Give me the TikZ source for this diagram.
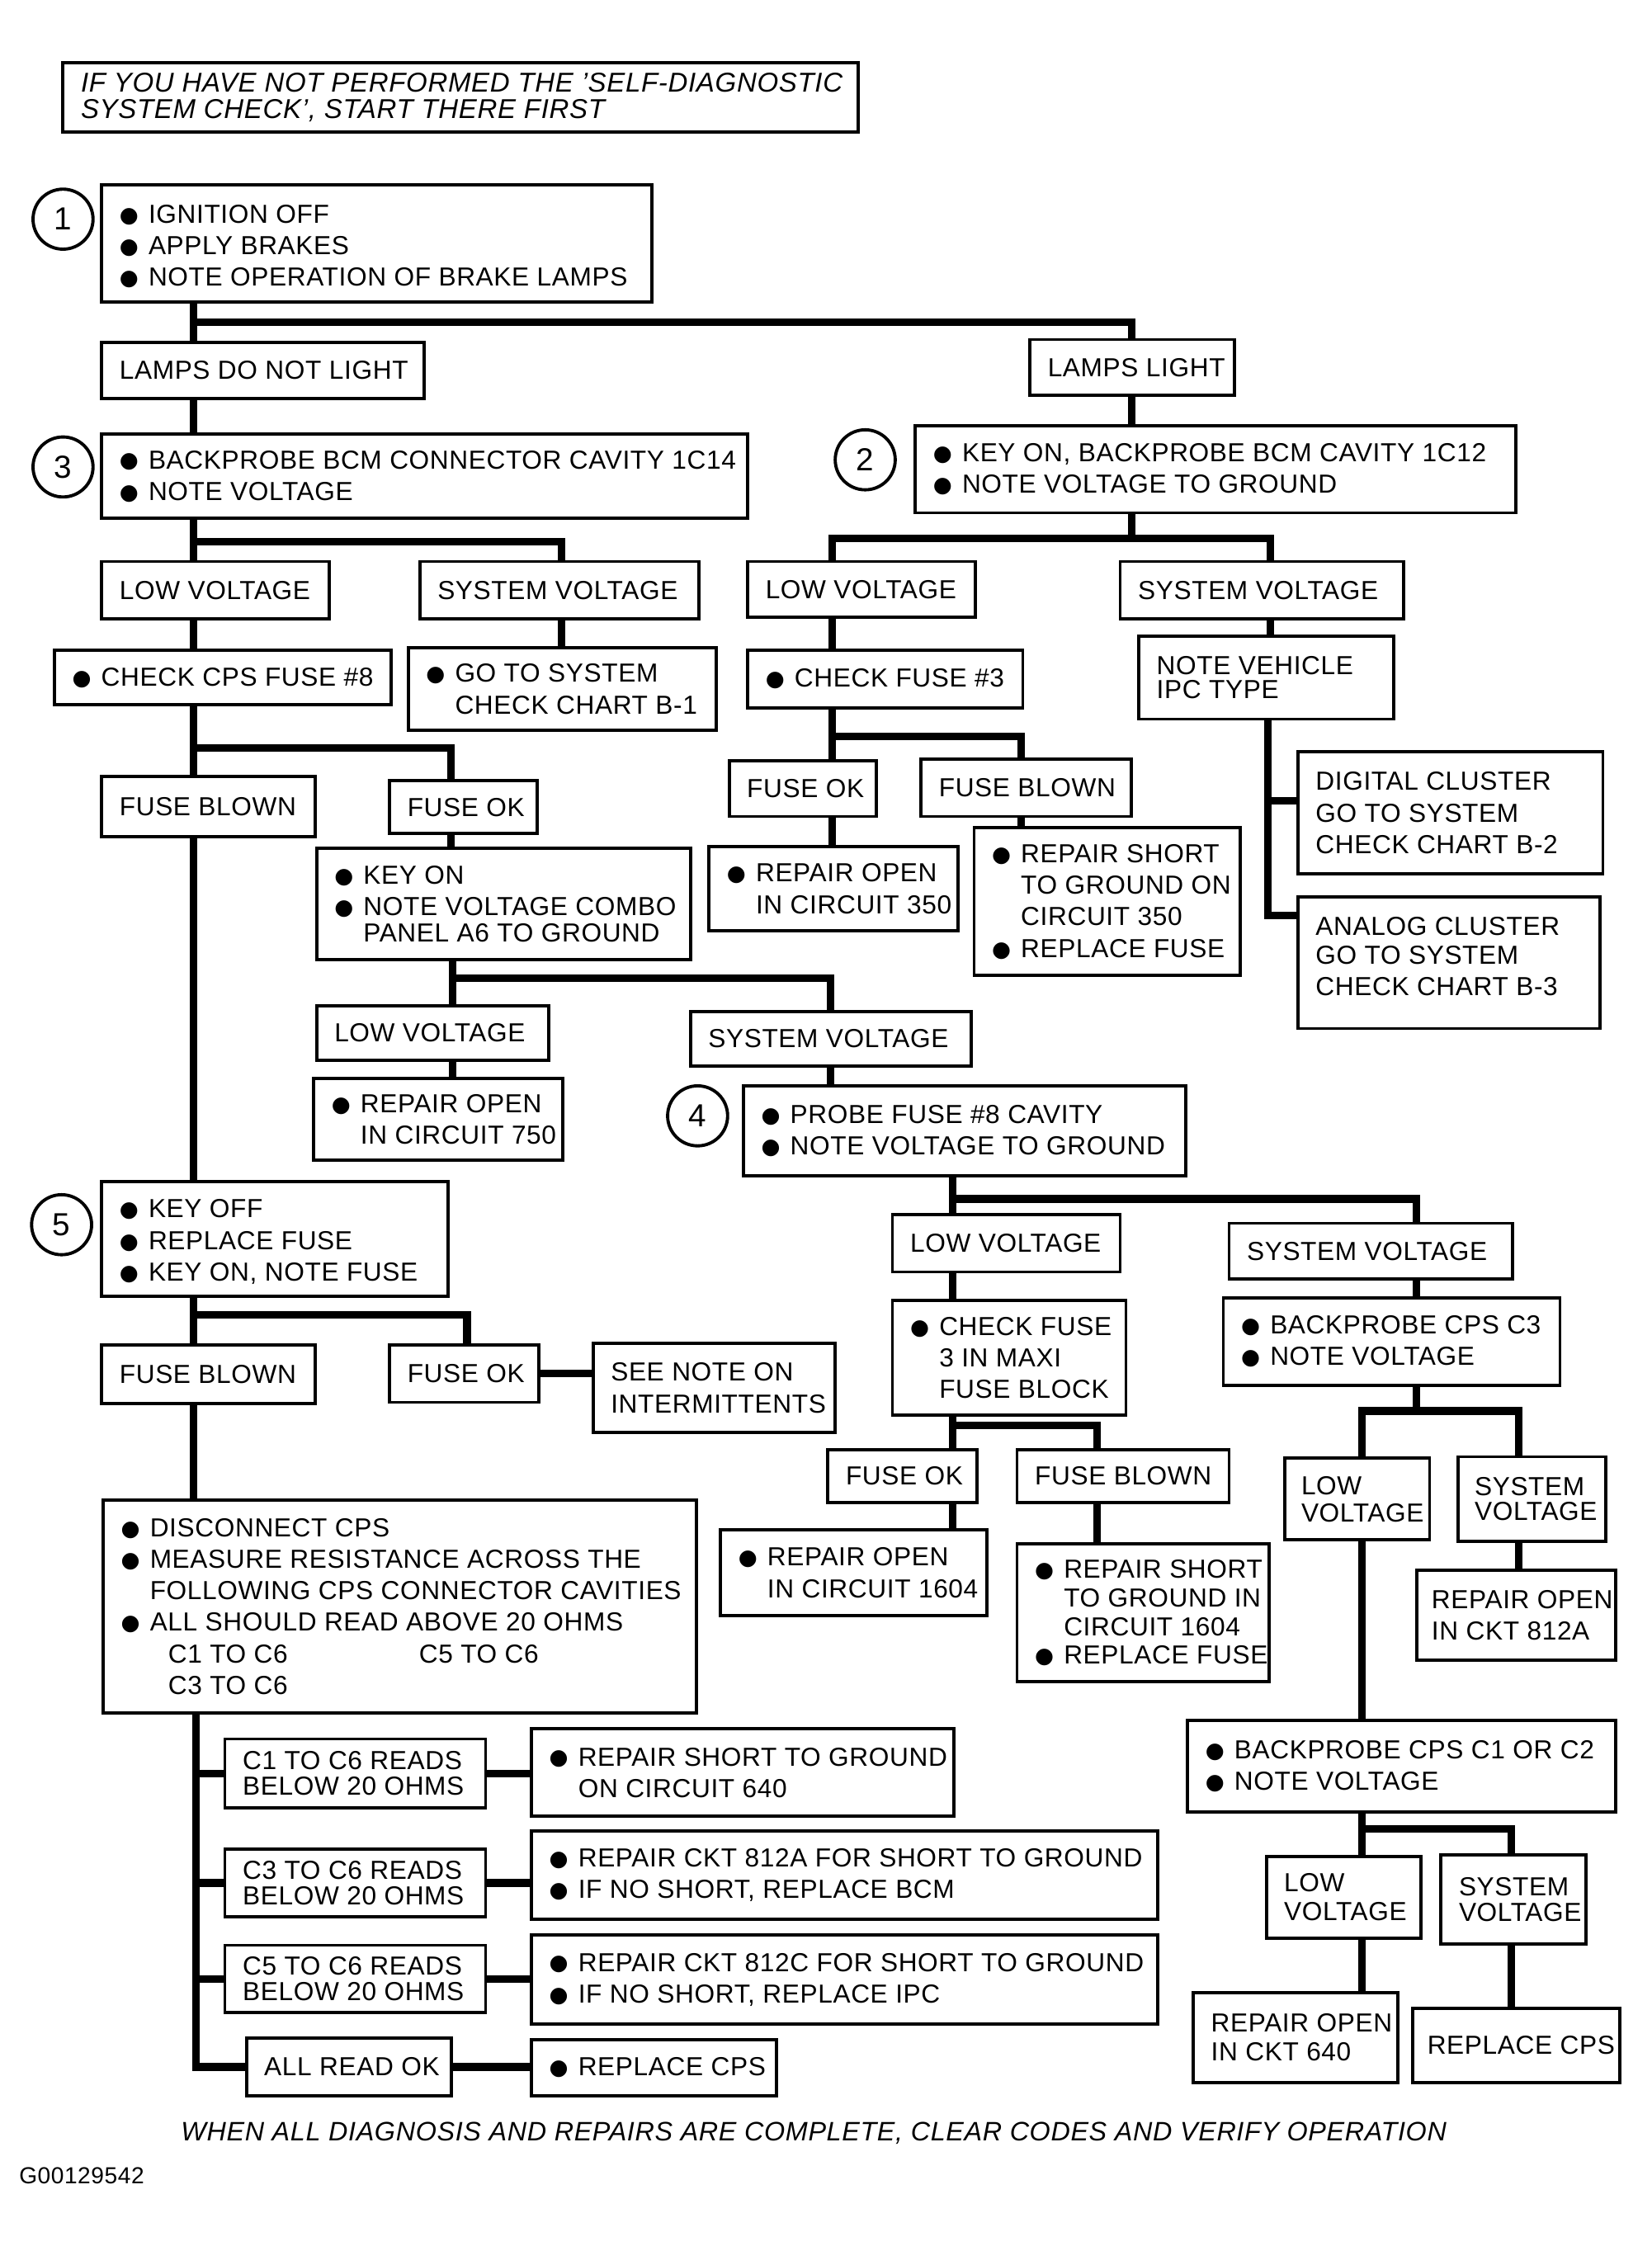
\documentclass[tikz,border=0pt]{standalone}
\usepackage{fontspec}
\setmainfont{Liberation Sans}[LetterSpace=2]
\newfontfamily\symf{DejaVu Sans}
\newcommand\bu{\makebox[10pt][l]{\raisebox{0.3pt}{\symf\fontsize{7.5}{7.5}\selectfont ●}}}
\newcommand\hi{\hspace*{10pt}}
\tikzset{
  box/.style={draw,line width=1.1pt,inner sep=0pt},
  txt/.style={inner sep=0pt,align=left,font=\fontsize{9}{10.9}\selectfont},
  conn/.style={line width=2.6pt,line cap=butt,line join=miter},
  num/.style={draw,circle,line width=1.1pt,minimum size=20.7pt,inner sep=0pt,font=\fontsize{11}{11}\selectfont},
  note/.style={inner sep=0pt,align=left,font=\itshape\fontsize{9.4}{8.9}\selectfont},
  foot/.style={inner sep=0pt,font=\itshape\fontsize{9.2}{9.2}\selectfont},
}
\newcommand\bx[7][]{%
  \pgfmathsetmacro\bxw{(#5-#3)*0.49403}%
  \pgfmathsetmacro\bxh{(#6-#4)*0.49403}%
  \node[box,minimum width=\bxw pt,minimum height=\bxh pt] (#2) at ({(#3+#5)/2},{(#4+#6)/2}) {};%
  \node[txt,anchor=west,#1] (#2-t) at ([xshift=6.5pt]#2.west) {#7};%
}
\begin{document}
\begin{tikzpicture}[x=0.017363cm,y=-0.017363cm]
\fill[white] (0,0) rectangle (1153,1568);
\useasboundingbox (0,0) rectangle (1153,1568);

% ---------- boxes ----------
\bx[note]{top}{44}{44}{599}{92}{IF YOU HAVE NOT PERFORMED THE 'SELF-DIAGNOSTIC\\SYSTEM CHECK', START THERE FIRST}

\bx[yshift=-1pt]{b1}{71}{129}{455}{211}{\bu IGNITION OFF\\\bu APPLY BRAKES\\\bu NOTE OPERATION OF BRAKE LAMPS}
\bx{ldnl}{71}{239}{296}{278}{LAMPS DO NOT LIGHT}
\bx{ll}{719}{237}{862}{276}{LAMPS LIGHT}
\bx{b3}{71}{303}{522}{362}{\bu BACKPROBE BCM CONNECTOR CAVITY 1C14\\\bu NOTE VOLTAGE}
\bx{b2}{639}{297}{1058}{358}{\bu KEY ON, BACKPROBE BCM CAVITY 1C12\\\bu NOTE VOLTAGE TO GROUND}

\bx{lv1}{71}{392}{230}{432}{LOW VOLTAGE}
\bx{sv1}{293}{392}{488}{432}{SYSTEM VOLTAGE}
\bx{lv2}{522}{392}{681}{431}{LOW VOLTAGE}
\bx{sv2}{782}{392}{980}{432}{SYSTEM VOLTAGE}

\bx{cps8}{38}{454}{273}{492}{\bu CHECK CPS FUSE \#8}
\bx{gts1}{285}{452}{500}{510}{\bu GO TO SYSTEM\\\hi CHECK CHART B-1}
\bx{cf3}{522}{454}{714}{494}{\bu CHECK FUSE \#3}
\bx{nv}{795}{444}{973}{502}{NOTE VEHICLE\\[-2.5pt]IPC TYPE}
\bx{dig}{906}{525}{1119}{610}{DIGITAL CLUSTER\\GO TO SYSTEM\\CHECK CHART B-2}
\bx[yshift=2pt]{ana}{906}{626}{1117}{718}{ANALOG CLUSTER\\[-1pt]GO TO SYSTEM\\CHECK CHART B-3}

\bx{fb1}{71}{542}{220}{584}{FUSE BLOWN}
\bx{fok1}{272}{545}{375}{582}{FUSE OK}
\bx{fok2}{509}{531}{612}{570}{FUSE OK}
\bx{fb2}{643}{530}{790}{570}{FUSE BLOWN}
\bx{ro350}{495}{591}{669}{650}{\bu REPAIR OPEN\\\hi IN CIRCUIT 350}
\bx{rs350}{680}{578}{866}{681}{\bu REPAIR SHORT\\\hi TO GROUND ON\\\hi CIRCUIT 350\\\bu REPLACE FUSE}
\bx{keyon}{221}{592}{482}{670}{\bu KEY ON\\\bu NOTE VOLTAGE COMBO\\[-2pt]\hi PANEL A6 TO GROUND}

\bx{lv3}{221}{702}{383}{740}{LOW VOLTAGE}
\bx{sv3}{482}{706}{678}{744}{SYSTEM VOLTAGE}
\bx{ro750}{219}{753}{393}{810}{\bu REPAIR OPEN\\\hi IN CIRCUIT 750}
\bx{b4}{519}{758}{828}{821}{\bu PROBE FUSE \#8 CAVITY\\\bu NOTE VOLTAGE TO GROUND}

\bx[yshift=-1pt]{b5}{71}{825}{313}{905}{\bu KEY OFF\\\bu REPLACE FUSE\\\bu KEY ON, NOTE FUSE}
\bx{lv4}{623}{848}{782}{888}{LOW VOLTAGE}
\bx{sv4}{858}{854}{1056}{893}{SYSTEM VOLTAGE}
\bx{fb3}{71}{939}{220}{980}{FUSE BLOWN}
\bx{fok3}{272}{939}{376}{979}{FUSE OK}
\bx{see}{414}{938}{583}{1000}{SEE NOTE ON\\INTERMITTENTS}
\bx{cfm}{623}{908}{786}{988}{\bu CHECK FUSE\\\hi 3 IN MAXI\\\hi FUSE BLOCK}
\bx{bc3}{854}{906}{1089}{967}{\bu BACKPROBE CPS C3\\\bu NOTE VOLTAGE}

\bx{fok4}{578}{1012}{682}{1049}{FUSE OK}
\bx{fb4}{710}{1012}{858}{1049}{FUSE BLOWN}
\bx[xshift=-0.5pt]{lv5}{897}{1018}{998}{1075}{LOW\\[-1.5pt]VOLTAGE}
\bx[xshift=-0.5pt]{sv5}{1018}{1017}{1121}{1076}{SYSTEM\\[-2.5pt]VOLTAGE}
\bx{ro1604}{503}{1068}{689}{1128}{\bu REPAIR OPEN\\\hi IN CIRCUIT 1604}
\bx{rs1604}{710}{1078}{886}{1174}{\bu REPAIR SHORT\\[-1pt]\hi TO GROUND IN\\[-1pt]\hi CIRCUIT 1604\\[-1pt]\bu REPLACE FUSE}
\bx[xshift=-1pt]{ro812a}{989}{1096}{1128}{1159}{REPAIR OPEN\\IN CKT 812A}

\bx{disc}{72}{1047}{486}{1196}{\bu DISCONNECT CPS\\\bu MEASURE RESISTANCE ACROSS THE\\\hi FOLLOWING CPS CONNECTOR CAVITIES\\\bu ALL SHOULD READ ABOVE 20 OHMS\\\hspace*{16.3pt}\makebox[86.5pt][l]{C1 TO C6}C5 TO C6\\\hspace*{16.3pt}C3 TO C6}
\bx{bc12}{829}{1201}{1128}{1265}{\bu BACKPROBE CPS C1 OR C2\\\bu NOTE VOLTAGE}
\bx{lv6}{884}{1296}{992}{1353}{LOW\\[-1pt]VOLTAGE}
\bx{sv6}{1006}{1295}{1107}{1357}{SYSTEM\\[-2pt]VOLTAGE}
\bx{ro640}{833}{1391}{976}{1454}{REPAIR OPEN\\[-1pt]IN CKT 640}
\bx[xshift=-1pt]{rcps2}{986}{1402}{1131}{1454}{REPLACE CPS}

\bx{c16}{157}{1214}{339}{1262}{C1 TO C6 READS\\[-2pt]BELOW 20 OHMS}
\bx{rs640}{371}{1207}{666}{1268}{\bu REPAIR SHORT TO GROUND\\\hi ON CIRCUIT 640}
\bx{c36}{157}{1291}{339}{1338}{C3 TO C6 READS\\[-2pt]BELOW 20 OHMS}
\bx{r812a}{371}{1278}{808}{1340}{\bu REPAIR CKT 812A FOR SHORT TO GROUND\\\bu IF NO SHORT, REPLACE BCM}
\bx{c56}{157}{1358}{339}{1405}{C5 TO C6 READS\\[-2pt]BELOW 20 OHMS}
\bx{r812c}{371}{1351}{808}{1413}{\bu REPAIR CKT 812C FOR SHORT TO GROUND\\\bu IF NO SHORT, REPLACE IPC}
\bx{aro}{172}{1423}{315}{1463}{ALL READ OK}
\bx{rcps}{371}{1424}{542}{1463}{\bu REPLACE CPS}

% ---------- step numbers ----------
\node[num] (n1) at (44,153) {1};
\node[num] (n3) at (44,326) {3};
\node[num] (n2) at (604,321) {2};
\node[num] (n4) at (487,779) {4};
\node[num] (n5) at (43,855) {5};

% ---------- junction coordinates ----------
\coordinate (j1) at (135,225);   \coordinate (j1r) at (790,225);
\coordinate (j2) at (135,378);   \coordinate (j2r) at (392,378);
\coordinate (j3) at (790,376);   \coordinate (j3l) at (581,376); \coordinate (j3r) at (887,376);
\coordinate (j4) at (581,514);   \coordinate (j4r) at (713,514);
\coordinate (j5) at (885,559);   \coordinate (j6) at (885,639);
\coordinate (j7) at (135,522);   \coordinate (j7r) at (315,522);
\coordinate (j8) at (316,683);   \coordinate (j8r) at (580,683);
\coordinate (j9) at (665,837);   \coordinate (j9r) at (989,837);
\coordinate (j10) at (665,995);  \coordinate (j10r) at (766,995);
\coordinate (j11) at (989,985);  \coordinate (j11l) at (951,985); \coordinate (j11r) at (1060,985);
\coordinate (j12) at (951,1277); \coordinate (j12r) at (1055,1277);
\coordinate (j13) at (135,918);  \coordinate (j13r) at (326,918);
\coordinate (jd) at (137,1443);

% ---------- connectors ----------
\draw[conn] (b1.south -| j1) -- (ldnl.north -| j1);
\draw[conn] (j1) -- (j1r) -- (ll.north -| j1r);
\draw[conn] (ldnl.south -| j1) -- (b3.north -| j1);
\draw[conn] (ll.south -| j1r) -- (b2.north -| j1r);

\draw[conn] (b3.south -| j2) -- (lv1.north -| j2);
\draw[conn] (j2) -- (j2r) -- (sv1.north -| j2r);
\draw[conn] (b2.south -| j3) -- (j3);
\draw[conn] (lv2.north -| j3l) -- (j3l) -- (j3r) -- (sv2.north -| j3r);

\draw[conn] (lv1.south -| j2) -- (cps8.north -| j2);
\draw[conn] (sv1.south -| j2r) -- (gts1.north -| j2r);
\draw[conn] (lv2.south -| j3l) -- (cf3.north -| j3l);
\draw[conn] (sv2.south -| j3r) -- (nv.north -| j3r);

\draw[conn] (nv.south -| j5) -- (j6) -- (j6 -| ana.west);
\draw[conn] (j5) -- (j5 -| dig.west);

\draw[conn] (cf3.south -| j4) -- (fok2.north -| j4);
\draw[conn] (j4) -- (j4r) -- (fb2.north -| j4r);
\draw[conn] (fok2.south -| j4) -- (ro350.north -| j4);
\draw[conn] (fb2.south -| j4r) -- (rs350.north -| j4r);

\draw[conn] (cps8.south -| j7) -- (fb1.north -| j7);
\draw[conn] (j7) -- (j7r) -- (fok1.north -| j7r);
\draw[conn] (fok1.south -| j7r) -- (keyon.north -| j7r);

\draw[conn] (keyon.south -| j8) -- (lv3.north -| j8);
\draw[conn] (j8) -- (j8r) -- (sv3.north -| j8r);
\draw[conn] (lv3.south -| j8) -- (ro750.north -| j8);
\draw[conn] (sv3.south -| j8r) -- (b4.north -| j8r);

\draw[conn] (b4.south -| j9) -- (lv4.north -| j9);
\draw[conn] (j9) -- (j9r) -- (sv4.north -| j9r);
\draw[conn] (lv4.south -| j9) -- (cfm.north -| j9);
\draw[conn] (sv4.south -| j9r) -- (bc3.north -| j9r);

\draw[conn] (cfm.south -| j10) -- (fok4.north -| j10);
\draw[conn] (j10) -- (j10r) -- (fb4.north -| j10r);
\draw[conn] (fok4.south -| j10) -- (ro1604.north -| j10);
\draw[conn] (fb4.south -| j10r) -- (rs1604.north -| j10r);

\draw[conn] (bc3.south -| j11) -- (j11);
\draw[conn] (lv5.north -| j11l) -- (j11l) -- (j11r) -- (sv5.north -| j11r);
\draw[conn] (sv5.south -| j11r) -- (ro812a.north -| j11r);
\draw[conn] (lv5.south -| j11l) -- (bc12.north -| j11l);

\draw[conn] (bc12.south -| j12) -- (lv6.north -| j12);
\draw[conn] (j12) -- (j12r) -- (sv6.north -| j12r);
\draw[conn] (lv6.south -| j12) -- (ro640.north -| j12);
\draw[conn] (sv6.south -| j12r) -- (rcps2.north -| j12r);

\draw[conn] (fb1.south -| j7) -- (b5.north -| j7);
\draw[conn] (b5.south -| j13) -- (fb3.north -| j13);
\draw[conn] (j13) -- (j13r) -- (fok3.north -| j13r);
\draw[conn] (fok3.east) -- (see.west |- fok3.east);
\draw[conn] (fb3.south -| j13) -- (disc.north -| j13);

\draw[conn] (disc.south -| jd) -- (jd) -- (aro.west |- jd);
\draw[conn] (c16.west -| jd) -- (c16.west);
\draw[conn] (c36.west -| jd) -- (c36.west);
\draw[conn] (c56.west -| jd) -- (c56.west);
\draw[conn] (c16.east) -- (rs640.west |- c16.east);
\draw[conn] (c36.east) -- (r812a.west |- c36.east);
\draw[conn] (c56.east) -- (r812c.west |- c56.east);
\draw[conn] (aro.east) -- (rcps.west |- aro.east);

% ---------- footer ----------
\node[foot,anchor=west] (foottxt) at (126,1489) {WHEN ALL DIAGNOSIS AND REPAIRS ARE COMPLETE, CLEAR CODES AND VERIFY OPERATION};
\node[anchor=west,inner sep=0pt,font=\fontsize{8}{8}\selectfont] (gid) at (13,1519) {G00129542};
\end{tikzpicture}
\end{document}
